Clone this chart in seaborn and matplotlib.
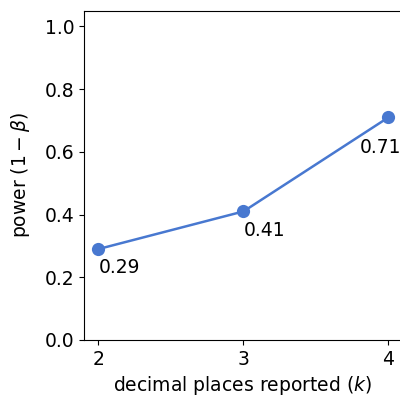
import matplotlib
matplotlib.use("Agg")
import matplotlib.pyplot as plt
import seaborn as sns
import pandas as pd

k_values = [2, 3, 4]
power = [0.29, 0.41, 0.71]
labels = ["0.29", "0.41", "0.71"]

df = pd.DataFrame({"k": k_values, "power": power})

sns.set_style("ticks")
plt.rcParams["font.family"] = ["DejaVu Sans"]
plt.rcParams["text.color"] = "black"
plt.rcParams["axes.labelcolor"] = "black"

fig = plt.figure(figsize=(4.0, 3.99), dpi=100)
# right edge of the axes runs past the canvas, as in the reference crop
ax = fig.add_axes([0.21, 0.148, 0.83, 0.825])

sns.lineplot(data=df, x="k", y="power", marker="o", color="#4878d0",
             linewidth=1.8, markersize=9.5, markeredgewidth=0, ax=ax)

# label offsets (data units)
x_shift = [0.0, 0.0, -0.2]
y_shift = [-0.03, -0.03, -0.065]
for x, y, lab, dx, dy in zip(k_values, power, labels, x_shift, y_shift):
    ax.text(x + dx, y + dy, lab, ha="left", va="top", fontsize=13.5)

ax.set_xlim(1.9, 4.19)
ax.set_ylim(0, 1.05)
ax.set_xticks(k_values)
ax.set_yticks([0.0, 0.2, 0.4, 0.6, 0.8, 1.0])
ax.tick_params(labelsize=13.5, colors="black")
for s in ax.spines.values():
    s.set_color("black")
ax.set_xlabel("decimal places reported ($k$)", fontsize=13.5, x=0.477)
ax.set_ylabel("power $(1-\\beta)$", fontsize=13.5, labelpad=9)

fig.savefig("out.png", dpi=100)
